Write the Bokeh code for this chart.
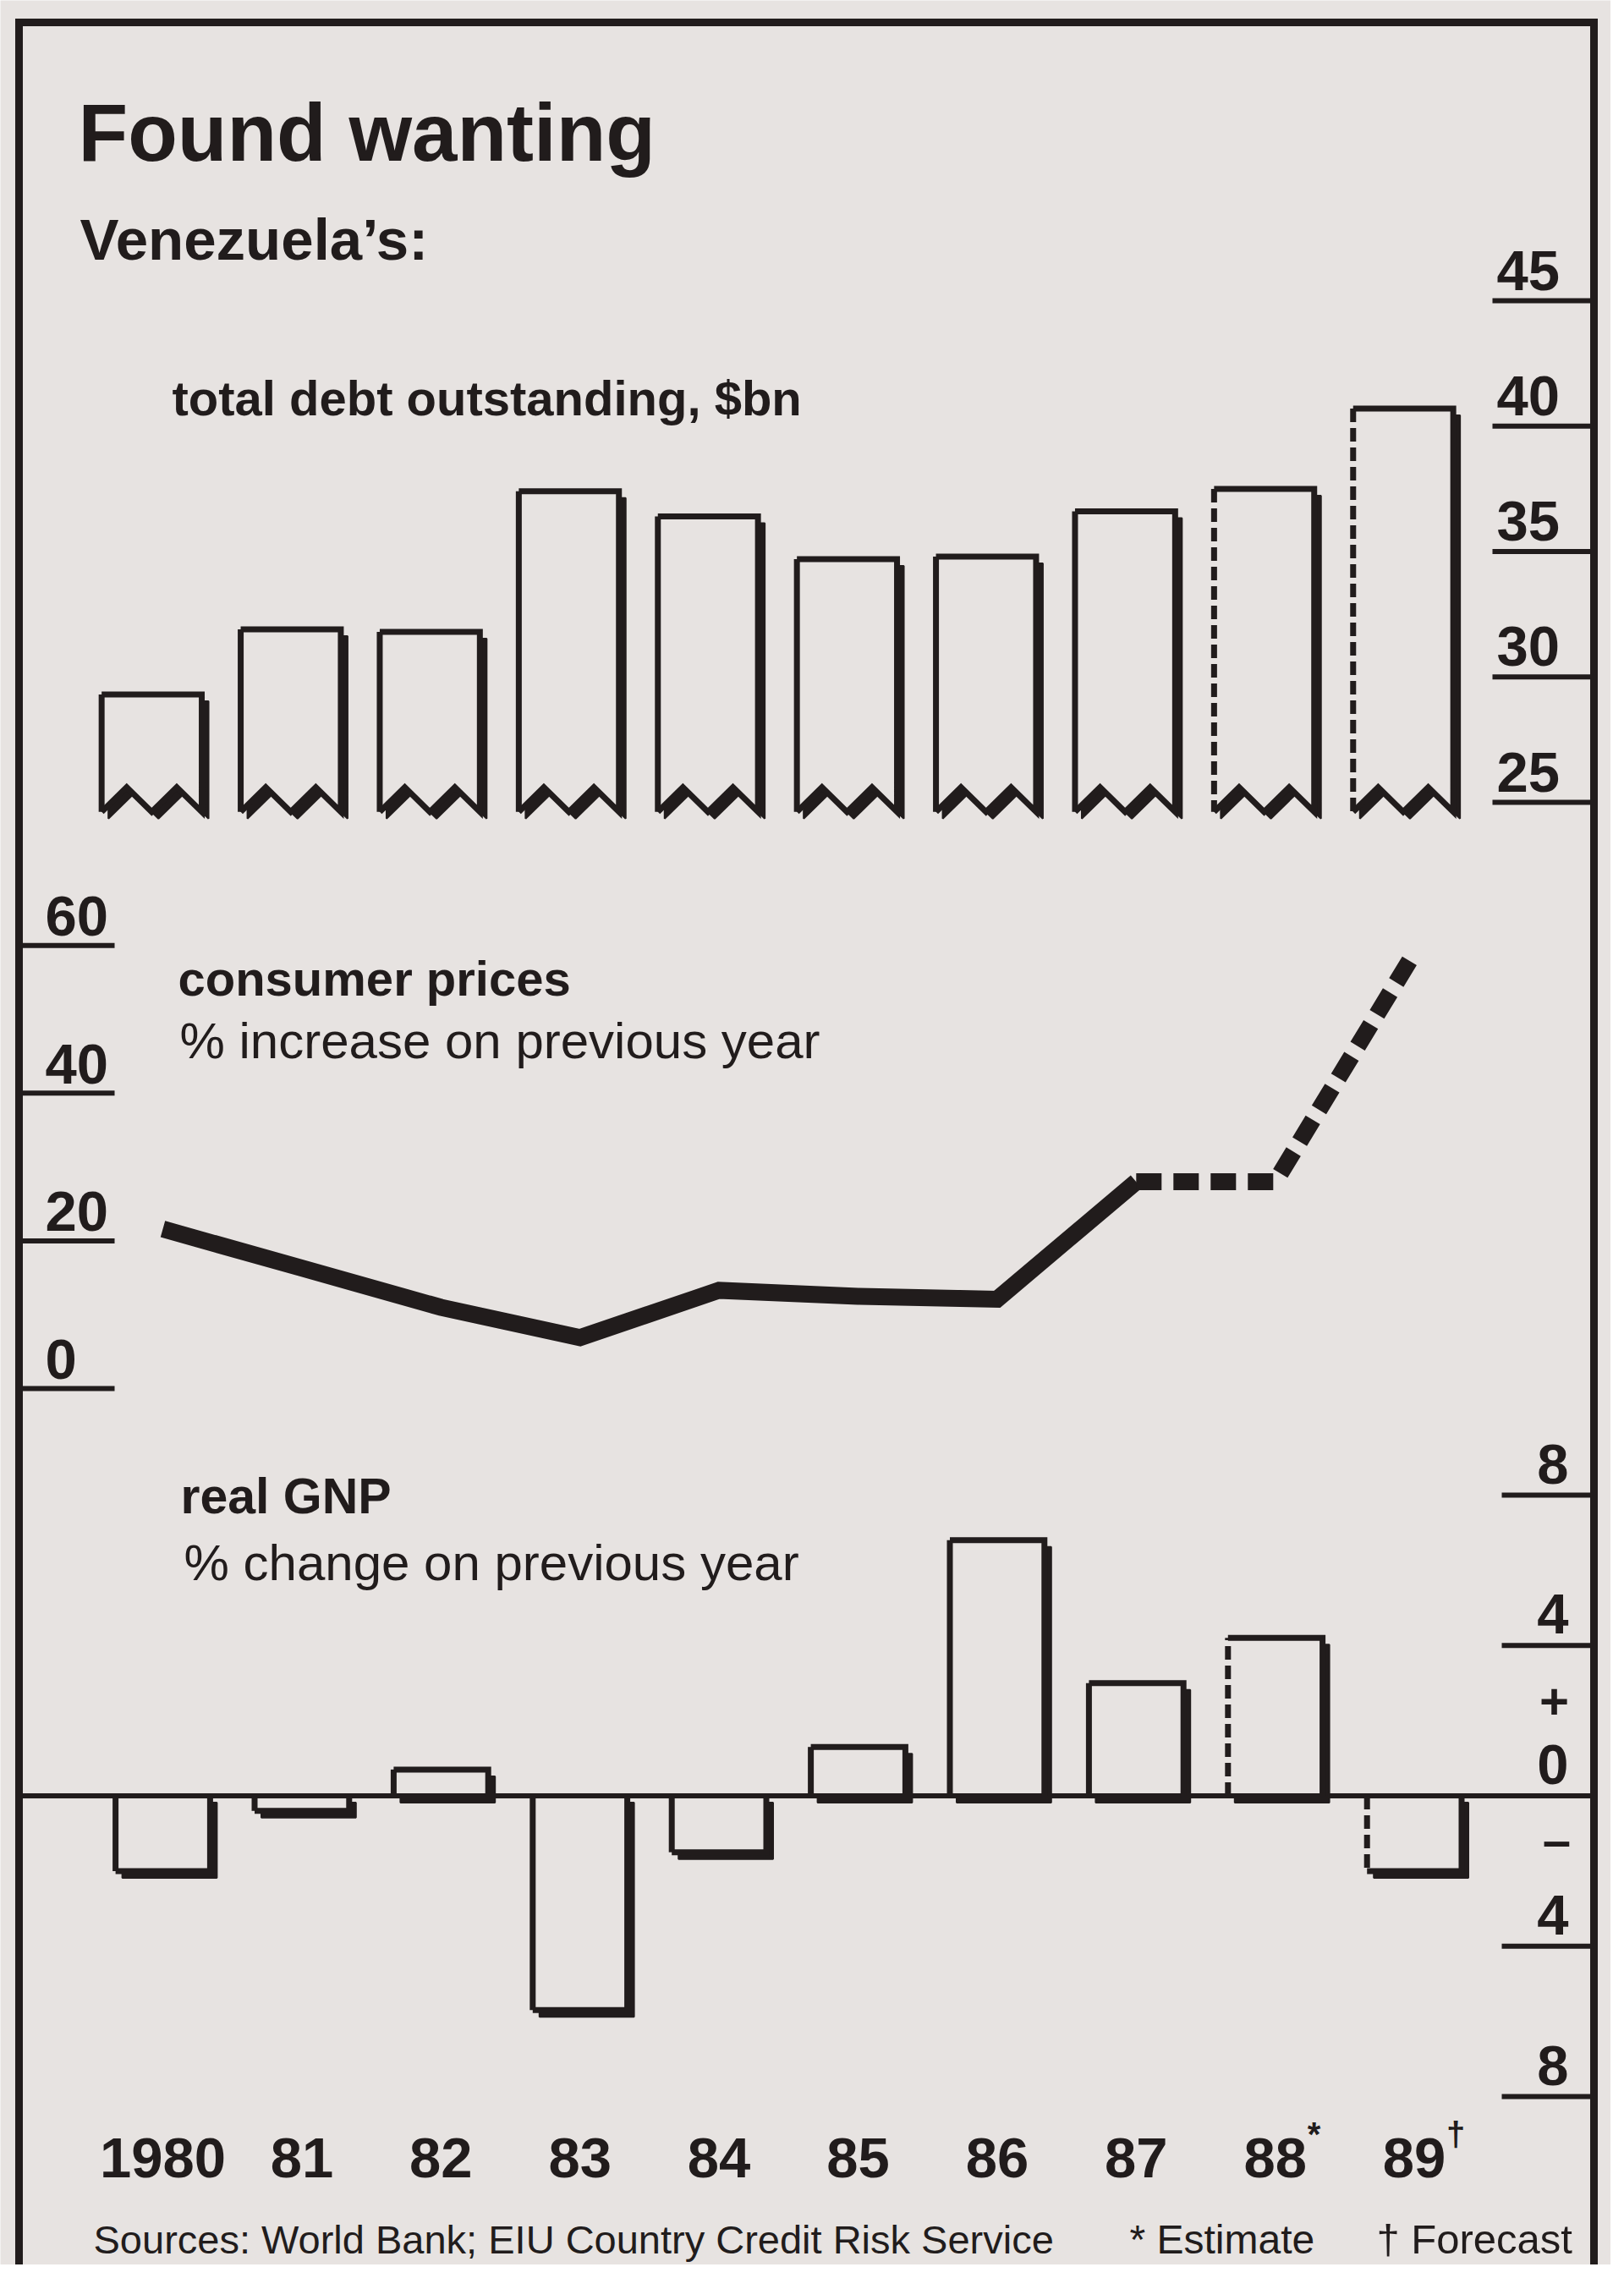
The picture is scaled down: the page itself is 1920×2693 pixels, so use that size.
import numpy as np
from bokeh.plotting import figure
from bokeh.models import Range1d
from bokeh.core.properties import value
from bokeh.embed import file_html
from bokeh.resources import INLINE

# ---------------- data ----------------
years = ["1980", "81", "82", "83", "84", "85", "86", "87", "88", "89"]
year_marks = ["", "", "", "", "", "", "", "", "*", "\u2020"]
status = ["actual"] * 8 + ["estimate", "forecast"]
debt = [29.3, 31.9, 31.8, 37.4, 36.4, 34.7, 34.8, 36.6, 37.5, 40.7]      # $bn
cpi = [21.6, 16.3, 11.0, 6.9, 13.3, 12.5, 12.1, 28.0, 28.0, 59.0]        # % y/y
gnp = [-2.0, -0.4, 0.7, -5.7, -1.5, 1.3, 6.8, 3.0, 4.2, -2.0]            # % y/y
debt_ticks = [25, 30, 35, 40, 45]
debt_tick_labels = ["25", "30", "35", "40", "45"]
cpi_ticks = [0, 20, 40, 60]
cpi_tick_labels = ["0", "20", "40", "60"]
gnp_ticks = [8, 4, 0, -4, -8]
gnp_tick_labels = ["8", "4", "0", "4", "8"]

# ---------------- style / layout ----------------
PAPER = "#e7e3e1"
INK = "#211c1c"
FONT = "Liberation Sans"
W, H = 1904, 2677
OX, OY = 8, 8                     # page margin -> reference pixel coords
LEFT, RIGHT, TOP = 30, 1892, 34   # frame

def x_range_for(px0, ppu):
    return Range1d(start=(OX - px0) / ppu, end=(OX + W - px0) / ppu)

def y_range_for(py0, v0, ppu):
    return Range1d(start=v0 - (OY + H - py0) / ppu, end=v0 + (py0 - OY) / ppu)

YR_X0, YR_PPU = 200.0, 164.4
DEBT_Y0, DEBT_PPU = 956.0, 29.65     # value 25 at this pixel row
CPI_Y0, CPI_PPU = 1649.0, 8.729      # value 0
GNP_Y0, GNP_PPU = 2130.5, 44.45      # value 0

p = figure(width=W, height=H, x_range=Range1d(OX, OX + W), y_range=Range1d(OY + H, OY),
           x_axis_type=None, y_axis_type=None, min_border=0,
           output_backend="svg", toolbar_location=None,
           background_fill_color=PAPER, border_fill_color=PAPER, outline_line_color=None)
p.extra_x_ranges = {"yr": x_range_for(YR_X0, YR_PPU)}
p.extra_y_ranges = {"debt": y_range_for(DEBT_Y0, 25, DEBT_PPU),
                    "cpi": y_range_for(CPI_Y0, 0, CPI_PPU),
                    "gnp": y_range_for(GNP_Y0, 0, GNP_PPU)}

MID = 0.28  # offset of the 'middle' text baseline above the alphabetic baseline, in em

def txt(x, y, s, size, bold=False, align="left", base_off=0.0, y_range_name="default",
        x_range_name="default", x_offset=0):
    """y given as baseline; drawn with middle baseline lifted accordingly."""
    if y_range_name == "default":
        y = [v - MID * size for v in y]
        yo = -base_off
    else:
        yo = -(base_off + MID * size)
    p.text(x=x, y=y, text=s, text_font=value(FONT), text_font_size=f"{size}px",
           text_font_style="bold" if bold else "normal", text_color=INK,
           text_align=align, text_baseline="middle", y_offset=yo, x_offset=x_offset,
           y_range_name=y_range_name, x_range_name=x_range_name)

# ---------------- frame ----------------
p.line(x=[LEFT, LEFT, RIGHT, RIGHT], y=[OY + H + 20, TOP, TOP, OY + H + 20],
       line_color=INK, line_width=9, line_join="miter")

# ---------------- titles ----------------
txt([100], [191], ["Found wanting"], 96, bold=True)
txt([102], [310], ["Venezuela\u2019s:"], 69, bold=True)
txt([211], [494], ["total debt outstanding, $bn"], 58, bold=True)
txt([218], [1180], ["consumer prices"], 58, bold=True)
txt([220], [1255], ["% increase on previous year"], 60)
txt([221], [1793], ["real GNP"], 59, bold=True)
txt([225], [1872], ["% change on previous year"], 60)

idx = np.arange(len(years))
n = len(years)
SH_PX = 8   # shadow offset in pixels

# ---------------- debt panel ----------------
p.segment(x0=[1772] * len(debt_ticks), x1=[RIGHT] * len(debt_ticks), y0=debt_ticks, y1=debt_ticks,
          y_range_name="debt", line_color=INK, line_width=6)
txt([1777] * len(debt_ticks), debt_ticks, debt_tick_labels, 67, bold=True,
    y_range_name="debt", base_off=17)

BW_D, OFF_D = 0.72, -0.08
ZZ_LO, ZZ_HI = 24.62, 25.6
dxs = SH_PX / YR_PPU

def debt_shape(i, v, sx=0.0, sy=0.0):
    l = i + OFF_D - BW_D / 2 + sx
    r = l + BW_D
    zx = [l + k * BW_D / 4 for k in range(5)]
    zy = [ZZ_LO, ZZ_HI, ZZ_LO, ZZ_HI, ZZ_LO]
    xs = [l, r] + zx[::-1]
    ys = [v, v] + zy[::-1]
    return xs, [y + sy for y in ys]

sh = [debt_shape(i, v, dxs, -SH_PX / DEBT_PPU) for i, v in zip(idx, debt)]
p.patches(xs=[s[0] for s in sh], ys=[s[1] for s in sh], x_range_name="yr", y_range_name="debt",
          fill_color=INK, line_color=INK, line_width=2)
bd = [debt_shape(i, v) for i, v in zip(idx, debt)]
p.patches(xs=[s[0] for s in bd], ys=[s[1] for s in bd], x_range_name="yr", y_range_name="debt",
          fill_color=PAPER, line_color=None)
p.multi_line(xs=[s[0] for s in bd], ys=[s[1] for s in bd], x_range_name="yr", y_range_name="debt",
             line_color=INK, line_width=7, line_join="miter")
for kind, dash in (("actual", "solid"), ("est", "16 7")):
    sel = [i for i in idx if (status[i] == "actual") == (kind == "actual")]
    p.multi_line(xs=[[bd[i][0][0], bd[i][0][0]] for i in sel],
                 ys=[[bd[i][1][0], bd[i][1][-1]] for i in sel],
                 x_range_name="yr", y_range_name="debt", line_color=INK, line_width=7,
                 line_dash=dash, line_cap="butt")

# ---------------- consumer prices panel ----------------
p.segment(x0=[LEFT] * len(cpi_ticks), x1=[143] * len(cpi_ticks), y0=cpi_ticks, y1=cpi_ticks,
          y_range_name="cpi", line_color=INK, line_width=6)
txt([61] * len(cpi_ticks), cpi_ticks, cpi_tick_labels, 67, bold=True,
    y_range_name="cpi", base_off=16)

split = status.index("estimate") - 1
p.line(x=idx[:split + 1], y=cpi[:split + 1], x_range_name="yr", y_range_name="cpi",
       line_color=INK, line_width=20, line_join="miter", line_cap="butt")
p.line(x=idx[split:], y=cpi[split:], x_range_name="yr", y_range_name="cpi",
       line_color=INK, line_width=20, line_dash="30 14", line_join="miter", line_cap="butt")

# ---------------- real GNP panel ----------------
BW_G = 0.68
gl = [i - BW_G / 2 for i in idx]
gr = [i + BW_G / 2 for i in idx]
dys = SH_PX / GNP_PPU
p.quad(left=[l + dxs for l in gl], right=[r + dxs for r in gr],
       bottom=[min(0, v) - dys for v in gnp], top=[max(0, v) - dys for v in gnp],
       x_range_name="yr", y_range_name="gnp", fill_color=INK, line_color=INK, line_width=2)
p.quad(left=gl, right=gr, bottom=[min(0, v) for v in gnp], top=[max(0, v) for v in gnp],
       x_range_name="yr", y_range_name="gnp", fill_color=PAPER, line_color=None)

p.segment(x0=[1783] * len(gnp_ticks), x1=[RIGHT] * len(gnp_ticks), y0=gnp_ticks, y1=gnp_ticks,
          y_range_name="gnp", line_color=INK, line_width=6)
p.segment(x0=[LEFT], x1=[RIGHT], y0=[0], y1=[0], y_range_name="gnp", line_color=INK, line_width=6)
txt([1862] * len(gnp_ticks), gnp_ticks, gnp_tick_labels, 67, bold=True, align="right",
    y_range_name="gnp", base_off=18)
p.text(x=[1845], y=[0], text=["+"], text_font=value(FONT), text_font_size="60px",
       text_font_style="bold", text_color=INK, text_align="center", text_baseline="middle",
       y_offset=-112, y_range_name="gnp")
p.text(x=[1848], y=[0], text=["\u2013"], text_font=value(FONT), text_font_size="60px",
       text_font_style="bold", text_color=INK, text_align="center", text_baseline="middle",
       y_offset=52, y_range_name="gnp")

p.multi_line(xs=[[l, r, r] for l, r in zip(gl, gr)], ys=[[v, v, 0] for v in gnp],
             x_range_name="yr", y_range_name="gnp", line_color=INK, line_width=7, line_join="miter")
for kind, dash in (("actual", "solid"), ("est", "16 7")):
    sel = [i for i in idx if (status[i] == "actual") == (kind == "actual")]
    p.multi_line(xs=[[gl[i], gl[i]] for i in sel], ys=[[0, gnp[i]] for i in sel],
                 x_range_name="yr", y_range_name="gnp", line_color=INK, line_width=7,
                 line_dash=dash, line_cap="butt")

# ---------------- year labels & sources ----------------
txt(list(idx), [2577] * n, years, 67, bold=True, align="center", x_range_name="yr")
p.text(x=list(idx), y=[2530] * n, text=year_marks, text_font=value(FONT), text_font_size="40px",
       text_font_style="bold", text_color=INK, text_align="left", text_baseline="middle",
       x_offset=38, x_range_name="yr")

txt([118], [2668], ["Sources: World Bank; EIU Country Credit Risk Service"], 47)
txt([1343], [2668], ["* Estimate"], 48)
txt([1635], [2668], ["\u2020 Forecast"], 49)

open("out.html", "w").write(file_html(p, INLINE))
